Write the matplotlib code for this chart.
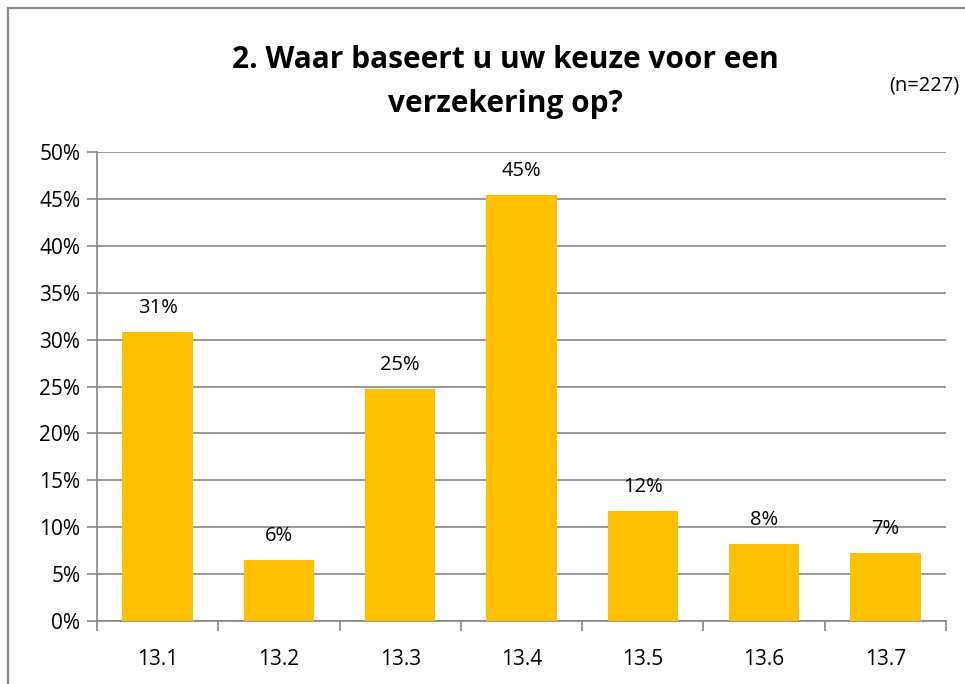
import numpy as np
import matplotlib
matplotlib.use("Agg")
import matplotlib.pyplot as plt
from matplotlib.ticker import FuncFormatter

plt.rcParams['font.family'] = ['Open Sans', 'DejaVu Sans']

# data
categories = ['13.1', '13.2', '13.3', '13.4', '13.5', '13.6', '13.7']
values = [30.8, 6.5, 24.7, 45.4, 11.7, 8.2, 7.2]
labels = ['31%', '6%', '25%', '45%', '12%', '8%', '7%']

bar_color = '#FFC000'
grid_color = '#868686'

fig = plt.figure(figsize=(9.65, 6.84), dpi=100)
ax = fig.add_axes([97 / 965, 1 - 621 / 684, (946 - 97) / 965, (621 - 152) / 684])

index = np.arange(len(categories))
ax.bar(index, values, 0.58, color=bar_color, linewidth=0, zorder=3)

for i, v in enumerate(values):
    ax.text(i, v + 1.5, labels[i], ha='center', va='bottom', fontsize=14.5, color='black')

ax.set_xlim(-0.5, len(categories) - 0.5)
ax.set_ylim(0, 50)
ax.set_yticks(np.arange(0, 51, 5))
ax.yaxis.set_major_formatter(FuncFormatter(lambda y, p: '%d%%' % y))
ax.yaxis.grid(True, color=grid_color, linewidth=1.2, zorder=0)
ax.set_axisbelow(True)

ax.set_xticks(index)
ax.set_xticklabels(categories)
ax.set_xticks(np.arange(-0.5, len(categories), 1), minor=True)
ax.tick_params(axis='x', which='major', length=0, pad=20, labelsize=15)
ax.tick_params(axis='x', which='minor', length=7, direction='out', color=grid_color, width=1.2)
ax.tick_params(axis='y', length=7, direction='out', color=grid_color, width=1.2, labelsize=15, pad=5)

for s in ['top', 'right']:
    ax.spines[s].set_visible(False)
for s in ['left', 'bottom']:
    ax.spines[s].set_color(grid_color)
    ax.spines[s].set_linewidth(1.2)

fig.text(505 / 965, 1 - 82 / 684, '2. Waar baseert u uw keuze voor een\nverzekering op?',
         ha='center', va='center', fontsize=21.5, fontweight='bold', linespacing=1.65)
fig.text(1 - 6 / 965, 1 - 85 / 684, '(n=227)', ha='right', va='center', fontsize=14.5)

# chart frame
fig.add_artist(plt.Line2D([8 / 965, 8 / 965], [0, 1 - 8 / 684], color=grid_color, linewidth=1.5))
fig.add_artist(plt.Line2D([8 / 965, 1], [1 - 8 / 684, 1 - 8 / 684], color=grid_color, linewidth=1.5))

plt.savefig('out.png', dpi=100)
